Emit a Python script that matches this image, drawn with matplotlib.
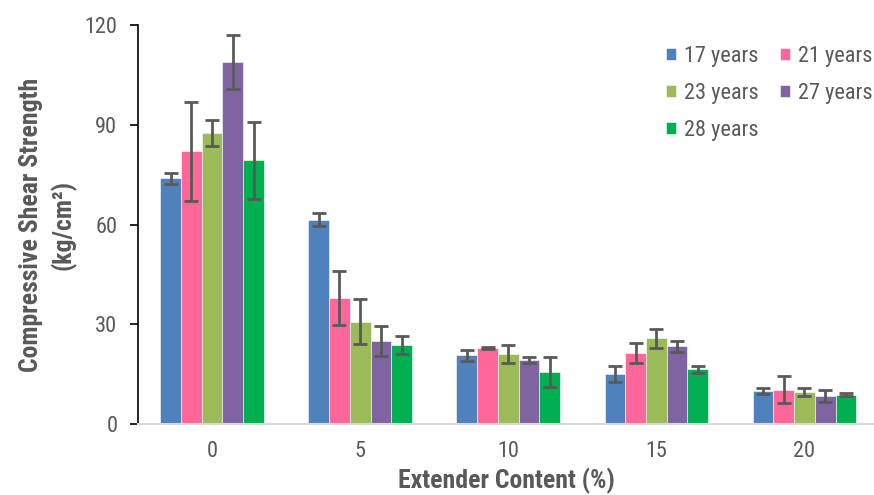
import numpy as np
import matplotlib.pyplot as plt

plt.rcParams['font.family'] = ['Roboto Condensed', 'DejaVu Sans']

categories = ['0', '5', '10', '15', '20']
series = ['17 years', '21 years', '23 years', '27 years', '28 years']
colors = ['#4F81BD', '#FF6699', '#9BBB59', '#8064A2', '#00B050']

values = [
    [73.9, 61.5, 20.7, 15.0, 9.9],
    [82.0, 38.0, 23.0, 21.4, 10.3],
    [87.4, 30.8, 21.1, 25.8, 9.5],
    [109.0, 25.0, 19.2, 23.4, 8.4],
    [79.3, 23.8, 15.7, 16.4, 8.8],
]
errors = [
    [1.6, 2.0, 1.6, 2.5, 0.9],
    [15.0, 8.1, 0.3, 2.9, 4.0],
    [3.9, 6.8, 2.8, 2.8, 1.2],
    [8.1, 4.4, 0.9, 1.7, 1.8],
    [11.5, 2.6, 4.5, 1.0, 0.5],
]

gray = '#595959'
fig = plt.figure(figsize=(8.74, 4.95), dpi=100)
ax = fig.add_axes([0.158, 0.1434, 0.842, 0.806])

x = np.arange(len(categories))
w = 0.14
bars = []
for i, name in enumerate(series):
    pos = x + (i - 2) * w
    b = ax.bar(pos, values[i], w, color=colors[i], label=name,
               edgecolor='white', linewidth=0.4, zorder=2)
    ax.errorbar(pos, values[i], yerr=errors[i], fmt='none', ecolor=gray,
                elinewidth=2, capsize=5, capthick=2, zorder=3)
    bars.append(b)

ax.set_xlim(-0.5, 4.47)
ax.set_ylim(0, 120)
ax.set_yticks([0, 30, 60, 90, 120])
ax.set_xticks(x)
ax.set_xticklabels(categories)

for s in ['top', 'right']:
    ax.spines[s].set_visible(False)
ax.spines['left'].set_color('black')
ax.spines['left'].set_linewidth(1.2)
ax.spines['bottom'].set_color('#D9D9D9')
ax.spines['bottom'].set_linewidth(1.5)
ax.tick_params(axis='y', colors=gray, labelsize=16, length=6, width=1.2,
               direction='out', color='black', pad=9)
ax.tick_params(axis='x', colors=gray, labelsize=16, length=0, pad=12)

ax.set_ylabel('Compressive Shear Strength\n(kg/cm²)', fontsize=18.5,
              fontweight='bold', color=gray, labelpad=6, linespacing=1.35)
ax.set_xlabel('Extender Content (%)', fontsize=18.5, fontweight='bold',
              color=gray, labelpad=4)

order = [0, 2, 4, 1, 3]
leg = ax.legend([bars[k] for k in order], [series[k] for k in order],
                ncol=2, loc='upper right', bbox_to_anchor=(1.01, 0.97),
                borderaxespad=0, frameon=False, fontsize=16,
                handlelength=0.45, handleheight=0.45, handletextpad=0.35,
                columnspacing=0.95, labelspacing=0.72)
for t in leg.get_texts():
    t.set_color(gray)

fig.savefig('out.png', dpi=100)
